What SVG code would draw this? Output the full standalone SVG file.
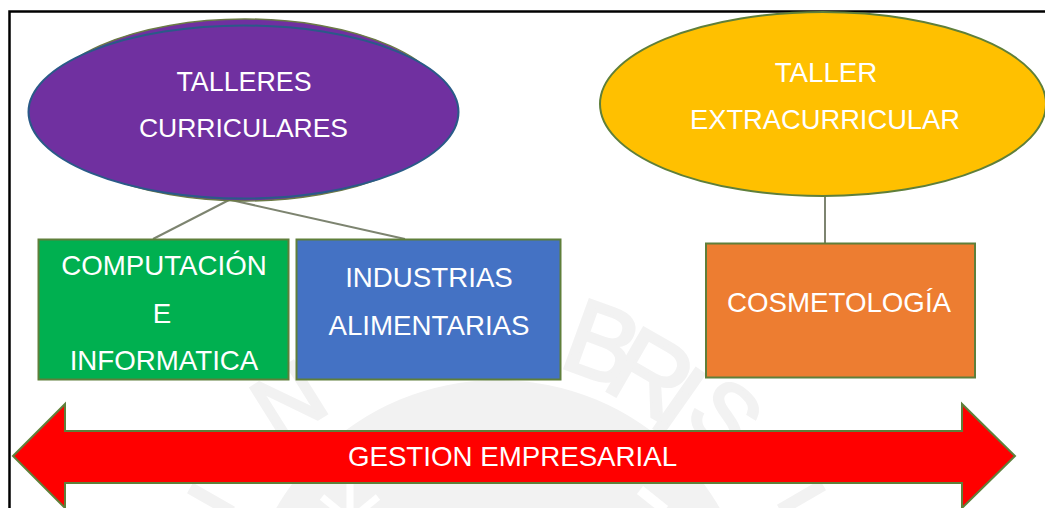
<svg xmlns="http://www.w3.org/2000/svg" width="1045" height="508" viewBox="0 0 1045 508">
<defs><style>
.t{font-family:"Liberation Sans",Arial,sans-serif;font-size:27.700px;fill:#fff;text-anchor:middle}
.s{stroke:#5f7f3a;stroke-width:2}
.c{stroke:#7d8470;stroke-width:2;fill:none}
.w{font-family:"Liberation Sans",Arial,sans-serif;font-size:106px;fill:#f2f2f2;stroke:#f2f2f2;stroke-width:3;text-anchor:middle}
</style></defs>
<rect width="1045" height="508" fill="#fff"/>
<g id="watermark">
<circle cx="498" cy="636" r="256" fill="#f2f2f2"/>
<text class="w" transform="translate(603 342) rotate(20) translate(0 38)">B</text>
<text class="w" transform="translate(652 373) rotate(30) translate(0 38)">R</text>
<text class="w" transform="translate(680 400) rotate(35) translate(0 38)">I</text>
<text class="w" transform="translate(730 410) rotate(42) translate(0 38)" style="font-size:90px">S</text>
<text class="w" transform="translate(288 400) rotate(-32) translate(0 32)" style="font-size:90px">N</text>
<path d="M322 497L350 520M378 497L350 520M350 480V520" stroke="#fff" stroke-width="7" fill="none"/>
<path d="M190 488L232 512M823 485L780 510" stroke="#f2f2f2" stroke-width="12" fill="none"/>
<path d="M640 490L665 510" stroke="#fff" stroke-width="10" fill="none"/>
</g>
<path id="frame" d="M9.500 508V11.500H1045" fill="none" stroke="#000" stroke-width="2.500"/>
<g id="connectors">
<path class="c" d="M229 200L153 239"/>
<path class="c" d="M231 200L405 239"/>
<path class="c" d="M825 196V243"/>
</g>
<g id="talleres-curriculares">
<ellipse cx="245" cy="110" rx="205" ry="91" fill="#7030a0" stroke="#6b7a45" stroke-width="1.500"/>
<ellipse cx="243.500" cy="112" rx="215" ry="86.500" fill="#7030a0" stroke="#2a5a88" stroke-width="2"/>
<text class="t" x="244" y="91" style="font-size:26.800px">TALLERES</text>
<text class="t" x="243.500" y="137" style="font-size:26.500px">CURRICULARES</text>
</g>
<g id="taller-extracurricular">
<ellipse class="s" cx="823" cy="104" rx="223" ry="92" fill="#ffc000"/>
<text class="t" x="826" y="82">TALLER</text>
<text class="t" x="825" y="129" style="font-size:27.300px">EXTRACURRICULAR</text>
</g>
<g id="computacion">
<rect class="s" x="38.500" y="239.500" width="250" height="140" fill="#00b050" stroke="#6f8f6a"/>
<text class="t" x="164" y="275">COMPUTACIÓN</text>
<text class="t" x="162" y="323">E</text>
<text class="t" x="164" y="370">INFORMATICA</text>
</g>
<g id="industrias">
<rect class="s" x="296.500" y="239.500" width="264" height="140" fill="#4472c4"/>
<text class="t" x="429" y="287">INDUSTRIAS</text>
<text class="t" x="429" y="335">ALIMENTARIAS</text>
</g>
<g id="cosmetologia">
<rect class="s" x="706" y="243.500" width="269" height="134" fill="#ed7d31"/>
<text class="t" x="839" y="312">COSMETOLOGÍA</text>
</g>
<g id="gestion-empresarial">
<path class="s" d="M13 456L65 404V431H962V404L1015 456L962 508V483H65V508Z" fill="#f00"/>
<text class="t" x="512.500" y="466">GESTION EMPRESARIAL</text>
</g>
</svg>
